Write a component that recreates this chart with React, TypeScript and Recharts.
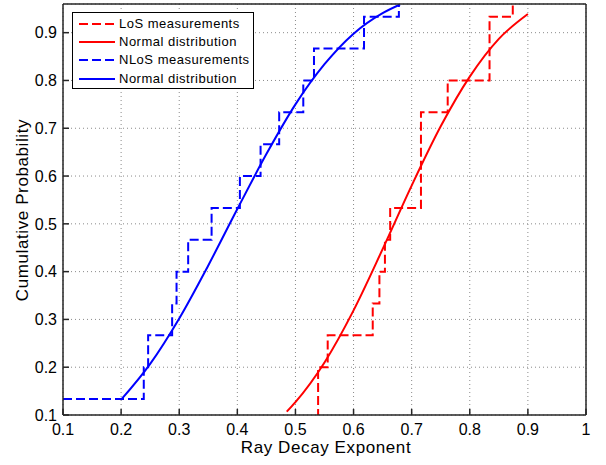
import React from 'react';
import { LineChart, Line, XAxis, YAxis, CartesianGrid, Legend, Label } from 'recharts';

// empirical CDF steps (x where the step jumps, new value)
const losStepX = [0.539, 0.539, 0.5555, 0.633, 0.6445, 0.654, 0.663, 0.716, 0.762, 0.834, 0.874];
const losStepY = [0.0667, 0.2, 0.2667, 0.3333, 0.4, 0.4667, 0.5333, 0.7333, 0.8, 0.9333, 1.0];

const nlosStepX = [0.1, 0.239, 0.2465, 0.2878, 0.2954, 0.3154, 0.3557, 0.4044, 0.44, 0.472, 0.5135, 0.5319, 0.618, 0.678];
const nlosStepY = [0.1333, 0.2, 0.2667, 0.3333, 0.4, 0.4667, 0.5333, 0.6, 0.6667, 0.7333, 0.8, 0.8667, 0.9333, 1.0];

// fitted normal CDF curves
const losFitX = [0.485, 0.5, 0.55, 0.6, 0.65, 0.7, 0.75, 0.8, 0.85, 0.9];
const losFitY = [0.107, 0.127, 0.21, 0.319, 0.447, 0.58, 0.704, 0.808, 0.887, 0.939];

const nlosFitX = [0.2, 0.25, 0.3, 0.35, 0.4, 0.45, 0.5, 0.55, 0.6, 0.65, 0.68];
const nlosFitY = [0.132, 0.207, 0.302, 0.413, 0.531, 0.646, 0.75, 0.834, 0.898, 0.941, 0.959];

const xTicks = [0.1, 0.2, 0.3, 0.4, 0.5, 0.6, 0.7, 0.8, 0.9, 1];
const yTicks = [0.1, 0.2, 0.3, 0.4, 0.5, 0.6, 0.7, 0.8, 0.9];

const legendItems = [
  { name: 'LoS measurements', color: '#ff0000', dashed: true },
  { name: 'Normal distribution', color: '#ff0000', dashed: false },
  { name: 'NLoS measurements', color: '#0000ff', dashed: true },
  { name: 'Normal distribution', color: '#0000ff', dashed: false },
];

const zip = (xs: number[], ys: number[]) => xs.map((x, i) => ({ x, y: ys[i] }));

const FONT = '"Liberation Sans", Arial, Helvetica, sans-serif';
const DASH = '9 4';
const AXIS = '#262626';

// tick labels drawn by hand so the font size sticks
const XTick = ({ x, payload }: any) => (
  <text x={x} y={435} textAnchor="middle" fontSize={16} fontFamily={FONT} fill="#000">
    {String(payload.value)}
  </text>
);

const YTick = ({ y, payload }: any) => (
  <text x={57} y={y + 5.8} textAnchor="end" fontSize={16} fontFamily={FONT} fill="#000">
    {String(payload.value)}
  </text>
);

const LegendBox = () => (
  <div
    style={{
      width: 182,
      height: 77,
      boxSizing: 'border-box',
      border: '1px solid #000',
      background: '#fff',
      fontFamily: FONT,
      fontSize: 13,
      letterSpacing: 0.5,
      paddingTop: 2,
    }}
  >
    {legendItems.map((item, i) => (
      <div key={i} style={{ display: 'flex', alignItems: 'center', height: 18.2, lineHeight: '18px' }}>
        <svg width={46} height={10} style={{ flex: 'none' }}>
          <line
            x1={6}
            x2={42}
            y1={5}
            y2={5}
            stroke={item.color}
            strokeWidth={2}
            strokeDasharray={item.dashed ? DASH : undefined}
          />
        </svg>
        <span>{item.name}</span>
      </div>
    ))}
  </div>
);

export default function App() {
  return (
    <div style={{ position: 'absolute', left: 0, top: 0, width: 606, height: 465, background: '#fff' }}>
      <LineChart width={606} height={465} margin={{ top: 3, right: 19, bottom: 0, left: 0 }}>
        <CartesianGrid stroke="#8a8a8a" strokeDasharray="1 3" />
        <XAxis
          xAxisId={0}
          dataKey="x"
          type="number"
          domain={[0.1, 1]}
          ticks={xTicks}
          allowDataOverflow
          height={50}
          stroke={AXIS}
          strokeWidth={1.5}
          tickSize={-6}
          tickMargin={14}
          tick={<XTick />}
        >
          <Label
            content={() => (
              <text x={326} y={453} textAnchor="middle" fontSize={17} letterSpacing={0.6} fontFamily={FONT} fill="#000">
                Ray Decay Exponent
              </text>
            )}
          />
        </XAxis>
        <XAxis
          xAxisId="top"
          orientation="top"
          dataKey="x"
          type="number"
          domain={[0.1, 1]}
          ticks={xTicks}
          allowDataOverflow
          height={1}
          stroke={AXIS}
          strokeWidth={1.5}
          tickSize={-6}
          tick={false}
        />
        <YAxis
          yAxisId={0}
          type="number"
          domain={[0.1, 0.96]}
          ticks={yTicks}
          allowDataOverflow
          width={63}
          stroke={AXIS}
          strokeWidth={1.5}
          tickSize={-6}
          tickMargin={12}
          tick={<YTick />}
        >
          <Label
            content={() => (
              <text
                x={22.5}
                y={210}
                transform="rotate(-90 22.5 210)"
                textAnchor="middle"
                dominantBaseline="central"
                fontSize={17}
                letterSpacing={0.6}
                fontFamily={FONT}
                fill="#000"
              >
                Cumulative Probability
              </text>
            )}
          />
        </YAxis>
        <YAxis
          yAxisId="right"
          orientation="right"
          type="number"
          domain={[0.1, 0.96]}
          ticks={yTicks}
          allowDataOverflow
          width={1}
          stroke={AXIS}
          strokeWidth={1.5}
          tickSize={-6}
          tick={false}
        />
        <Legend
          layout="vertical"
          align="center"
          verticalAlign="middle"
          wrapperStyle={{ left: 72, top: 12, width: 182, height: 77 }}
          content={() => <LegendBox />}
        />
        <Line
          data={zip(losStepX, losStepY)}
          dataKey="y"
          type="stepAfter"
          stroke="#ff0000"
          strokeWidth={2}
          strokeDasharray={DASH}
          dot={false}
          isAnimationActive={false}
          name="LoS measurements"
        />
        <Line
          data={zip(losFitX, losFitY)}
          dataKey="y"
          type="monotone"
          stroke="#ff0000"
          strokeWidth={2}
          dot={false}
          isAnimationActive={false}
          name="Normal distribution"
        />
        <Line
          data={zip(nlosStepX, nlosStepY)}
          dataKey="y"
          type="stepAfter"
          stroke="#0000ff"
          strokeWidth={2}
          strokeDasharray={DASH}
          dot={false}
          isAnimationActive={false}
          name="NLoS measurements"
        />
        <Line
          data={zip(nlosFitX, nlosFitY)}
          dataKey="y"
          type="monotone"
          stroke="#0000ff"
          strokeWidth={2}
          dot={false}
          isAnimationActive={false}
          name="Normal distribution "
        />
      </LineChart>
    </div>
  );
}
